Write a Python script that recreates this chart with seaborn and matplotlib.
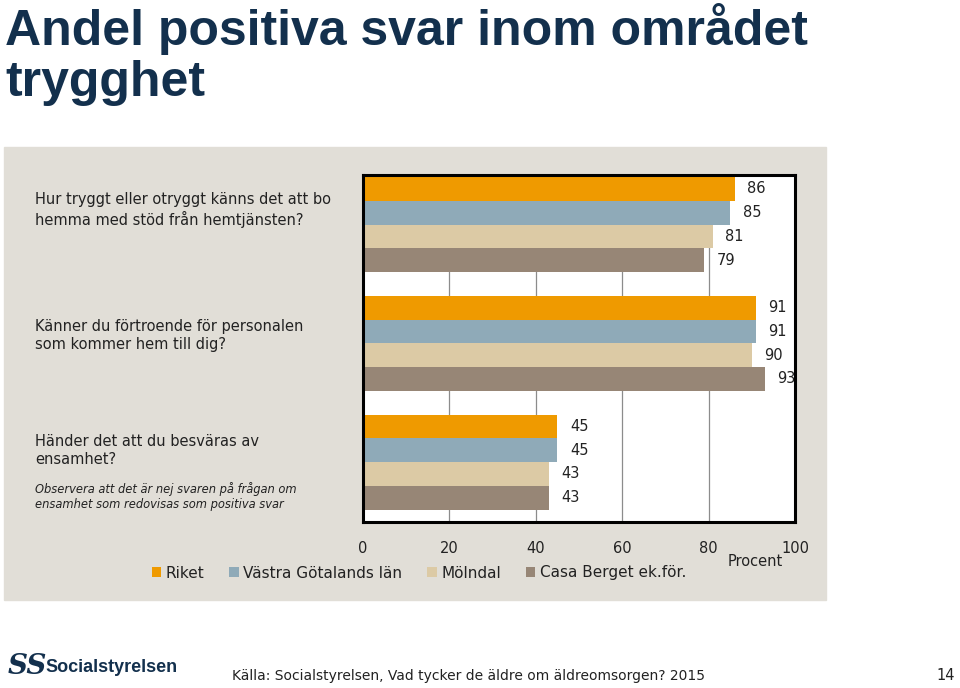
import numpy as np
import pandas as pd
import matplotlib
matplotlib.use("Agg")
import matplotlib.pyplot as plt
import seaborn as sns
from matplotlib.patches import Rectangle

# Data
fragor = ["F1", "F2", "F3"]
omraden = ["Riket", "Västra Götalands län", "Mölndal", "Casa Berget ek.för."]
varden = {
    "Riket": [86, 91, 45],
    "Västra Götalands län": [85, 91, 45],
    "Mölndal": [81, 90, 43],
    "Casa Berget ek.för.": [79, 93, 43],
}
fragetexter = [
    "Hur tryggt eller otryggt känns det att bo\nhemma med stöd från hemtjänsten?",
    "Känner du förtroende för personalen\nsom kommer hem till dig?",
    "Händer det att du besväras av\nensamhet?",
]
not_text = "Observera att det är nej svaren på frågan om\nensamhet som redovisas som positiva svar"
xticks = [0, 20, 40, 60, 80, 100]
farger = ["#ef9a00", "#8faab8", "#dccaa5", "#978676"]

rows = []
for omr in omraden:
    for f, v in zip(fragor, varden[omr]):
        rows.append({"fraga": f, "omrade": omr, "procent": v})
df = pd.DataFrame(rows)

sns.set_theme(style="white")
plt.rcParams["font.family"] = ["DejaVu Sans"]
navy = "#13304d"

fig = plt.figure(figsize=(9.6, 6.88), dpi=100)
fig.patches.append(Rectangle((4 / 960, 1 - 600 / 688), 822 / 960, 453 / 688,
                             transform=fig.transFigure, color="#e1ded7", zorder=-1))

ax = fig.add_axes([363 / 960, 1 - 522 / 688, 432 / 960, 347 / 688])
ax.set_zorder(2)
ax.set_facecolor("white")
sns.barplot(data=df, y="fraga", x="procent", hue="omrade", hue_order=omraden,
            order=fragor, palette=farger, orient="h", width=0.8, saturation=1,
            linewidth=0, ax=ax, zorder=3)

for c in ax.containers:
    ax.bar_label(c, padding=9, fontsize=10.5, color="#222222")

ax.set_xlim(0, 100)
ax.set_ylim(2.505, -0.417)
ax.set_xticks(xticks)
ax.set_xticklabels([str(t) for t in xticks], fontsize=10.5, color="#222222")
ax.tick_params(axis="x", length=0, pad=14)
ax.set_yticks([])
ax.set_xlabel("")
ax.set_ylabel("")
ax.grid(axis="x", color="#8c8c8c", linewidth=0.9, zorder=0)
ax.set_axisbelow(True)
for s in ax.spines.values():
    s.set_color("black")
    s.set_linewidth(2.2)
    s.set_zorder(5)

handles, labels = ax.get_legend_handles_labels()
ax.get_legend().remove()
fig.legend(handles, labels, loc="center left", bbox_to_anchor=(138 / 960, 1 - 573 / 688),
           ncol=4, frameon=False, fontsize=11, handlelength=0.6, handleheight=0.6,
           handletextpad=0.3, columnspacing=1.65, labelcolor="#222222")

fig.text(755 / 960, 1 - 562 / 688, "Procent", ha="center", va="center",
         fontsize=10.5, color="#222222")

# Frågetexter
ypos = [210, 336, 450]
for t, y in zip(fragetexter, ypos):
    fig.text(35 / 960, 1 - y / 688, t, ha="left", va="center", fontsize=10.5,
             color="#222222", linespacing=1.25)
fig.text(35 / 960, 1 - 497 / 688, not_text, ha="left", va="center", fontsize=8.3,
         style="italic", color="#222222", linespacing=1.2)

# Titel
fig.text(5 / 960, 1 - 3 / 688, "Andel positiva svar inom området\ntrygghet",
         ha="left", va="top", fontsize=36, fontweight="bold", color=navy,
         family="Liberation Sans", linespacing=1.15)

# Sidfot
fig.text(8 / 960, 1 - 666 / 688, "SS", ha="left", va="center", style="italic",
         fontsize=20, fontweight="bold", color=navy, family="DejaVu Serif")
fig.text(45 / 960, 1 - 667 / 688, "Socialstyrelsen", ha="left", va="center",
         fontsize=13, fontweight="bold", color=navy, family="Liberation Sans")
fig.text(232 / 960, 1 - 676 / 688,
         "Källa: Socialstyrelsen, Vad tycker de äldre om äldreomsorgen? 2015",
         ha="left", va="center", fontsize=10, color="#222222")
fig.text(955 / 960, 1 - 676 / 688, "14", ha="right", va="center", fontsize=10.5,
         color="#222222")

fig.savefig("out.png", dpi=100, facecolor="white")
